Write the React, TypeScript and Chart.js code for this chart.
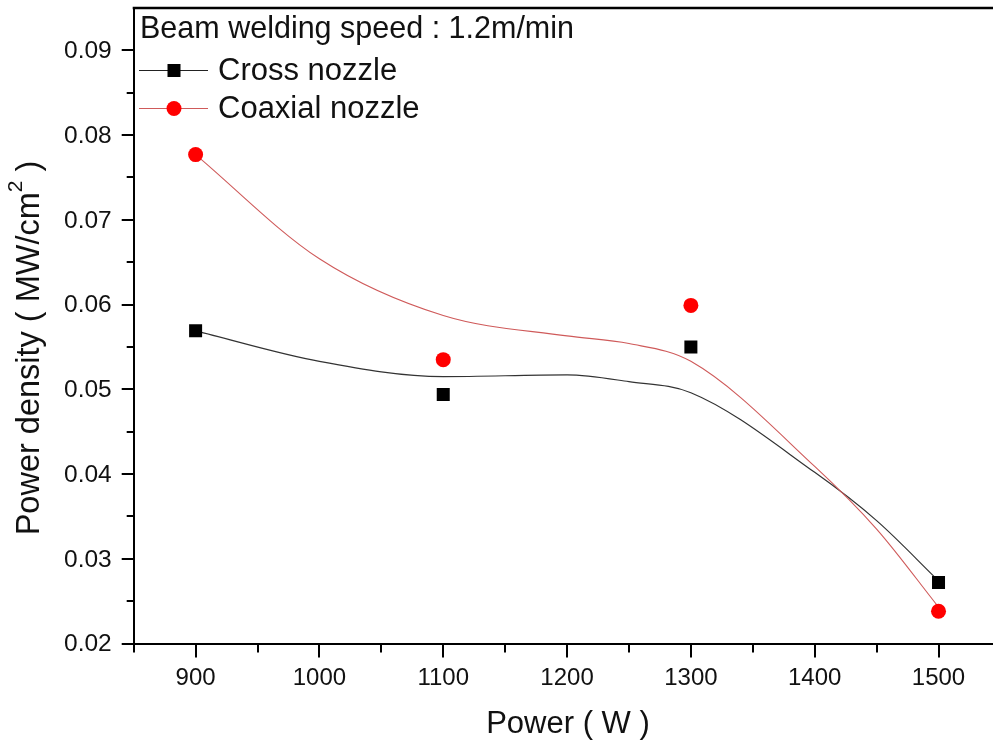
import React, { useEffect, useRef } from "react";
import { Chart, registerables } from "chart.js";
Chart.register(...registerables);

// Measured data points
const powerLevels = [900, 1100, 1300, 1500];
const crossNozzle = [0.0569, 0.0494, 0.055, 0.0272];
const coaxialNozzle = [0.0777, 0.0535, 0.0599, 0.0238];

// Smooth fitted curves
const fitPower = [900, 1000, 1100, 1200, 1250, 1300, 1400, 1450, 1500];
const crossFit = [0.0569, 0.0533, 0.0515, 0.0517, 0.0509, 0.0496, 0.0402, 0.0345, 0.0274];
const coaxialFit = [0.0777, 0.0654, 0.0587, 0.0563, 0.0554, 0.0533, 0.0409, 0.0335, 0.0243];

// Ticks
const xMajorTicks = [900, 1000, 1100, 1200, 1300, 1400, 1500];
const xTickLabels = ["900", "1000", "1100", "1200", "1300", "1400", "1500"];
const xMinorTicks = [850, 950, 1050, 1150, 1250, 1350, 1450];
const yMajorTicks = [0.02, 0.03, 0.04, 0.05, 0.06, 0.07, 0.08, 0.09];
const yTickLabels = ["0.02", "0.03", "0.04", "0.05", "0.06", "0.07", "0.08", "0.09"];
const yMinorTicks = [0.025, 0.035, 0.045, 0.055, 0.065, 0.075, 0.085];

const legendTitle = "Beam welding speed : 1.2m/min";
const seriesNames = ["Cross nozzle", "Coaxial nozzle"];
const xTitle = "Power ( W )";
const yTitleMain = "Power density ( MW/cm";
const yTitleSup = "2";
const yTitleEnd = " )";

const FONT = "'Liberation Sans', Arial, sans-serif";
const RED = "#ff0000";
const RED_LINE = "#cf5a5a";

const decorPlugin = {
  id: "decor",
  afterDraw(chart: any) {
    const ctx = chart.ctx;
    const xs = chart.scales.x;
    const ys = chart.scales.y;
    const area = chart.chartArea;
    ctx.save();
    ctx.strokeStyle = "#000";
    ctx.fillStyle = "#111";
    // top border
    ctx.lineWidth = 2.5;
    ctx.beginPath();
    ctx.moveTo(area.left - 1, area.top);
    ctx.lineTo(area.right + 10, area.top);
    ctx.stroke();

    // x ticks
    ctx.lineWidth = 2;
    const by = area.bottom;
    xMajorTicks.forEach((v) => {
      const px = Math.round(xs.getPixelForValue(v));
      ctx.beginPath();
      ctx.moveTo(px, by);
      ctx.lineTo(px, by + 14);
      ctx.stroke();
    });
    xMinorTicks.forEach((v) => {
      const px = Math.round(xs.getPixelForValue(v));
      ctx.beginPath();
      ctx.moveTo(px, by);
      ctx.lineTo(px, by + 9);
      ctx.stroke();
    });
    // y ticks
    const lx = area.left;
    yMajorTicks.forEach((v) => {
      const py = Math.round(ys.getPixelForValue(v));
      ctx.beginPath();
      ctx.moveTo(lx, py);
      ctx.lineTo(lx - 12, py);
      ctx.stroke();
    });
    yMinorTicks.forEach((v) => {
      const py = Math.round(ys.getPixelForValue(v));
      ctx.beginPath();
      ctx.moveTo(lx, py);
      ctx.lineTo(lx - 7, py);
      ctx.stroke();
    });

    // tick labels
    ctx.font = `24px ${FONT}`;
    ctx.textAlign = "center";
    ctx.textBaseline = "middle";
    xMajorTicks.forEach((v, i) => {
      ctx.fillText(xTickLabels[i], xs.getPixelForValue(v), by + 35);
    });
    ctx.font = `24.5px ${FONT}`;
    ctx.textAlign = "right";
    yMajorTicks.forEach((v, i) => {
      ctx.fillText(yTickLabels[i], lx - 22, ys.getPixelForValue(v) + 1);
    });

    // axis titles
    ctx.font = `31px ${FONT}`;
    ctx.textAlign = "center";
    ctx.textBaseline = "middle";
    ctx.fillText(xTitle, 568, 724);

    ctx.save();
    ctx.translate(30, 348);
    ctx.rotate(-Math.PI / 2);
    ctx.font = `32.5px ${FONT}`;
    const mainW = ctx.measureText(yTitleMain).width;
    ctx.font = `21px ${FONT}`;
    const supW = ctx.measureText(yTitleSup).width;
    ctx.font = `32.5px ${FONT}`;
    const endW = ctx.measureText(yTitleEnd).width;
    const total = mainW + supW + endW;
    let cx = -total / 2;
    ctx.textAlign = "left";
    ctx.fillText(yTitleMain, cx, 0);
    cx += mainW;
    ctx.font = `21px ${FONT}`;
    ctx.fillText(yTitleSup, cx, -14);
    cx += supW;
    ctx.font = `32.5px ${FONT}`;
    ctx.fillText(yTitleEnd, cx, 0);
    ctx.restore();

    // legend
    ctx.font = `30.5px ${FONT}`;
    ctx.textAlign = "left";
    ctx.textBaseline = "middle";
    ctx.fillText(legendTitle, 140, 30);

    ctx.font = `31px ${FONT}`;
    // cross entry
    ctx.lineWidth = 1;
    ctx.strokeStyle = "#222";
    ctx.beginPath();
    ctx.moveTo(139, 70.5);
    ctx.lineTo(208, 70.5);
    ctx.stroke();
    ctx.fillStyle = "#000";
    ctx.fillRect(174 - 6.5, 70.5 - 6.5, 13, 13);
    ctx.fillStyle = "#111";
    ctx.fillText(seriesNames[0], 218, 71);

    // coaxial entry
    ctx.strokeStyle = RED_LINE;
    ctx.beginPath();
    ctx.moveTo(139, 108.5);
    ctx.lineTo(208, 108.5);
    ctx.stroke();
    ctx.fillStyle = RED;
    ctx.beginPath();
    ctx.arc(174, 108.5, 7.5, 0, Math.PI * 2);
    ctx.fill();
    ctx.fillStyle = "#111";
    ctx.fillText(seriesNames[1], 218, 109);

    ctx.restore();
  },
};

export default function App() {
  const ref = useRef<HTMLCanvasElement | null>(null);
  useEffect(() => {
    if (!ref.current) return;
    const toXY = (xsArr: number[], ysArr: number[]) => xsArr.map((x, i) => ({ x, y: ysArr[i] }));
    const chart = new Chart(ref.current, {
      type: "scatter",
      data: {
        datasets: [
          {
            label: seriesNames[0],
            data: toXY(powerLevels, crossNozzle),
            pointStyle: "rect",
            pointRadius: 9.2,
            pointBackgroundColor: "#000",
            pointBorderWidth: 0,
            showLine: false,
            order: 0,
          } as any,
          {
            label: seriesNames[1],
            data: toXY(powerLevels, coaxialNozzle),
            pointStyle: "circle",
            pointRadius: 7.5,
            pointBackgroundColor: RED,
            pointBorderWidth: 0,
            showLine: false,
            order: 1,
          } as any,
          {
            label: "Cross fit",
            data: toXY(fitPower, crossFit),
            showLine: true,
            pointRadius: 0,
            borderColor: "#333",
            borderWidth: 1.2,
            cubicInterpolationMode: "monotone",
            order: 3,
          } as any,
          {
            label: "Coaxial fit",
            data: toXY(fitPower, coaxialFit),
            showLine: true,
            pointRadius: 0,
            borderColor: RED_LINE,
            borderWidth: 1.1,
            cubicInterpolationMode: "monotone",
            order: 2,
          } as any,
        ],
      },
      options: {
        animation: false,
        responsive: false,
        maintainAspectRatio: false,
        events: [],
        layout: { autoPadding: false, padding: { left: 0, right: 0, top: 8, bottom: 0 } },
        plugins: { legend: { display: false }, tooltip: { enabled: false }, title: { display: false } },
        scales: {
          x: {
            type: "linear",
            min: 850,
            max: 1544,
            grid: { display: false },
            ticks: { display: false },
            border: { display: true, color: "#000", width: 2 },
            afterFit: (s: any) => {
              s.height = 100.5;
            },
          },
          y: {
            type: "linear",
            min: 0.02,
            max: 0.095,
            grid: { display: false },
            ticks: { display: false },
            border: { display: true, color: "#000", width: 2 },
            afterFit: (s: any) => {
              s.width = 133.7;
            },
          },
        },
      } as any,
      plugins: [decorPlugin],
    });
    return () => chart.destroy();
  }, []);
  return (
    <div style={{ position: "absolute", left: 0, top: 0, width: 993, height: 744, background: "#fff" }}>
      <canvas ref={ref} width={993} height={744} style={{ width: 993, height: 744, display: "block" }} />
    </div>
  );
}
